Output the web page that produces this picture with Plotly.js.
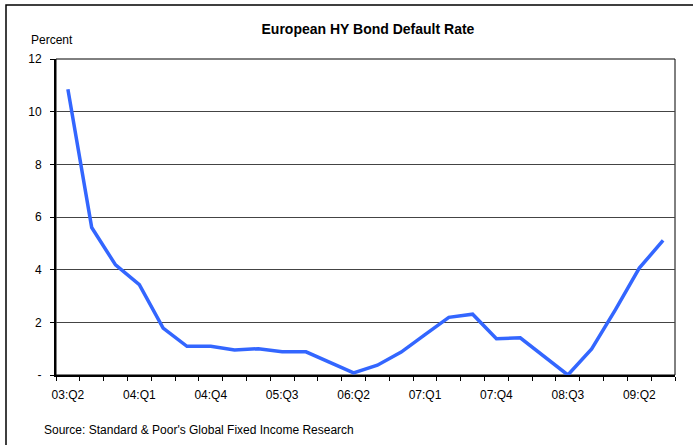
<!DOCTYPE html>
<html>
<head>
<meta charset="utf-8">
<script src="https://cdn.plot.ly/plotly-3.0.1.min.js"></script>
<style>
  html, body { margin: 0; padding: 0; background: #fff; }
  #chart { width: 693px; height: 445px; }
</style>
</head>
<body>
<div id="chart"></div>
<script>
// Quarterly categories 03:Q2 .. 09:Q3
const quarters = [
  "03:Q2","03:Q3","03:Q4","04:Q1","04:Q2","04:Q3","04:Q4","05:Q1","05:Q2",
  "05:Q3","05:Q4","06:Q1","06:Q2","06:Q3","06:Q4","07:Q1","07:Q2","07:Q3",
  "07:Q4","08:Q1","08:Q2","08:Q3","08:Q4","09:Q1","09:Q2","09:Q3"
];
// European HY bond default rate, percent
const defaultRate = [
  10.85, 5.6, 4.18, 3.43, 1.78, 1.09, 1.09, 0.95, 1.0,
  0.88, 0.88, 0.48, 0.08, 0.37, 0.87, 1.53, 2.19, 2.31,
  1.38, 1.41, 0.71, 0.0, 0.99, 2.48, 4.06, 5.11
];
// Labelled categories on the x axis
const xTickLabels = ["03:Q2","04:Q1","04:Q4","05:Q3","06:Q2","07:Q1","07:Q4","08:Q3","09:Q2"];
// Y axis ticks
const yTickVals = [0, 2, 4, 6, 8, 10, 12];
const yTickText = ["-", "2", "4", "6", "8", "10", "12"];

const xIdx = quarters.map((q, i) => i);
const xTickVals = xTickLabels.map(l => quarters.indexOf(l));

const FONT = "Arial, 'Liberation Sans', sans-serif";

const trace = {
  x: xIdx,
  y: defaultRate,
  type: "scatter",
  mode: "lines",
  line: { color: "#3366FF", width: 3.5 },
  hoverinfo: "skip",
  showlegend: false
};

const layout = {
  width: 693,
  height: 445,
  margin: { l: 56, r: 18, t: 59, b: 70, pad: 0 },
  paper_bgcolor: "#fff",
  plot_bgcolor: "#fff",
  font: { family: FONT, size: 12, color: "#000" },
  title: {
    text: "<b>European HY Bond Default Rate</b>",
    font: { family: FONT, size: 14, color: "#000" },
    xref: "paper", x: 0.504, xanchor: "center",
    yref: "container", y: 1 - 29 / 445, yanchor: "middle"
  },
  xaxis: {
    range: [-0.5, quarters.length - 0.5],
    tickmode: "array",
    tickvals: xTickVals,
    ticktext: xTickLabels,
    ticks: "",
    ticklabelstandoff: 8,
    showgrid: false,
    zeroline: false,
    showline: true,
    linecolor: "#000",
    linewidth: 2,
    tickfont: { family: FONT, size: 12, color: "#000" },
    minor: { tick0: -0.5, dtick: 1, ticks: "outside", ticklen: 4, tickwidth: 1, tickcolor: "#000", showgrid: false },
    fixedrange: true
  },
  yaxis: {
    range: [0, 12],
    tickmode: "array",
    tickvals: yTickVals,
    ticktext: yTickText,
    ticks: "outside",
    ticklen: 4,
    tickwidth: 1,
    tickcolor: "#000",
    ticklabelstandoff: 6,
    showgrid: true,
    gridcolor: "#444",
    gridwidth: 1,
    zeroline: false,
    showline: true,
    linecolor: "#000",
    linewidth: 2,
    tickfont: { family: FONT, size: 12, color: "#000" },
    fixedrange: true
  },
  shapes: [
    // plot frame (top and right)
    { type: "rect", xref: "paper", yref: "paper", x0: 0, x1: 1, y0: 0, y1: 1,
      line: { color: "#000", width: 1 }, fillcolor: "rgba(0,0,0,0)", layer: "below" },
    // outer chart border (right and bottom run off the image)
    { type: "rect", xref: "paper", yref: "paper", x0: -50 / 619, x1: 1.2, y0: -0.4, y1: 370 / 316,
      line: { color: "#000", width: 1.5 }, fillcolor: "rgba(0,0,0,0)" }
  ],
  annotations: [
    { text: "Percent", xref: "paper", yref: "paper", x: -27 / 619, y: 335 / 316,
      xanchor: "left", yanchor: "middle", showarrow: false,
      font: { family: FONT, size: 12, color: "#000" } },
    { text: "Source: Standard &amp; Poor's Global Fixed Income Research", xref: "paper", yref: "paper",
      x: -14 / 619, y: -55 / 316, xanchor: "left", yanchor: "middle", showarrow: false,
      font: { family: FONT, size: 12, color: "#000" } }
  ]
};

Plotly.newPlot("chart", [trace], layout, { displayModeBar: false, staticPlot: true });
</script>
</body>
</html>
